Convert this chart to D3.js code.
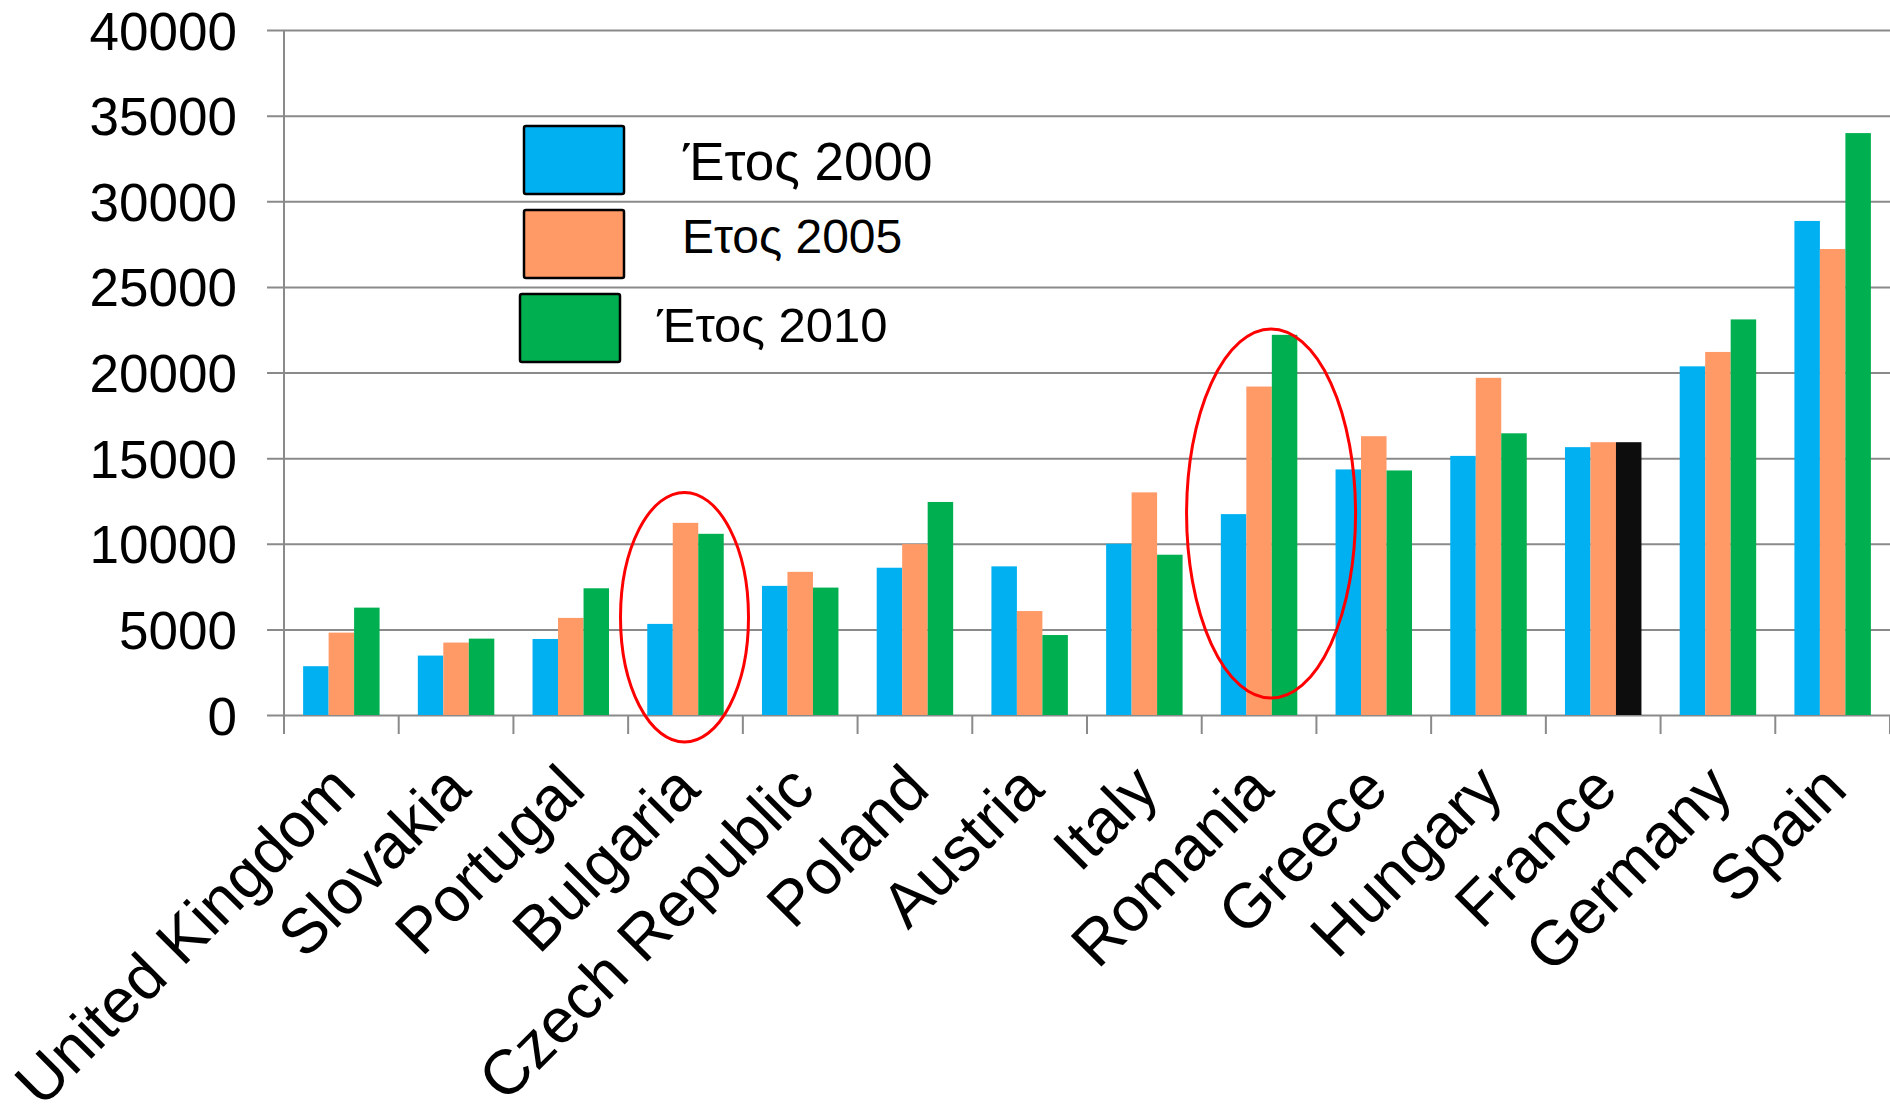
<!DOCTYPE html>
<html>
<head>
<meta charset="utf-8">
<script src="https://cdn.jsdelivr.net/npm/d3@7"></script>
<style>
  html, body { margin: 0; padding: 0; background: #fff; }
  svg { display: block; }
  text { font-family: "Liberation Sans", Arial, sans-serif; fill: #000; }
</style>
</head>
<body>
<svg id="chart" width="1890" height="1108"></svg>
<script>
// Countries along the x axis
const categories = ["United Kingdom", "Slovakia", "Portugal", "Bulgaria", "Czech Republic",
  "Poland", "Austria", "Italy", "Romania", "Greece", "Hungary", "France", "Germany", "Spain"];

// One array per year
const year2000 = [2850, 3470, 4440, 5320, 7540, 8600, 8680, 10000, 11730, 14340, 15130, 15640, 20360, 28850];
const year2005 = [4810, 4230, 5670, 11220, 8360, 9980, 6070, 13000, 19180, 16280, 19690, 15930, 21200, 27210];
const year2010 = [6270, 4460, 7400, 10580, 7440, 12440, 4670, 9360, 22200, 14280, 16450, 15930, 23100, 33980];

const seriesNames = ["Έτος 2000", "Ετος 2005", "Έτος 2010"];
const seriesValues = [year2000, year2005, year2010];

// Y axis ticks
const yTicks = [0, 5000, 10000, 15000, 20000, 25000, 30000, 35000, 40000];

// Countries circled in red
const highlighted = ["Bulgaria", "Romania"];

const colors = ["#00B0F0", "#FF9966", "#00B050"];
const specialColor = { "France|2": "#0D0D0D" };   // France 2010 bar
const gridColor = "#8a8a8a";

const svg = d3.select("#chart");

const plotLeft = 284, plotRight = 1890, plotTop = 30, plotBottom = 715;

const x = d3.scaleBand().domain(categories).range([plotLeft, plotRight]).paddingInner(0).paddingOuter(0);
const bw = x.bandwidth();
// three bars plus a 150% gap per category
const barW = bw / 4.5;
const x1 = d3.scaleBand().domain(d3.range(seriesNames.length))
  .range([bw * 0.75 / 4.5, bw * 0.75 / 4.5 + barW * 3]).padding(0);

const y = d3.scaleLinear().domain([0, 40000]).range([plotBottom, plotTop]);

// Horizontal gridlines with tick labels
const yAxis = d3.axisLeft(y)
  .tickValues(yTicks)
  .tickSizeInner(-(plotRight - 267))
  .tickSizeOuter(0)
  .tickPadding(30)
  .tickFormat(d3.format("d"));

const gy = svg.append("g").attr("transform", "translate(267,0)").call(yAxis);
gy.select(".domain").remove();
gy.selectAll(".tick line").attr("stroke", gridColor).attr("stroke-width", 2);
gy.selectAll(".tick text")
  .attr("font-size", 53)
  .attr("dy", "0.36em")
  .style("font-family", "'Liberation Sans', Arial, sans-serif")
  .attr("fill", "#000");

// Vertical axis line
svg.append("line")
  .attr("x1", plotLeft).attr("x2", plotLeft)
  .attr("y1", plotTop).attr("y2", plotBottom + 19)
  .attr("stroke", gridColor).attr("stroke-width", 2);

// Category tick marks at the band edges
const edges = categories.map(c => x(c)).concat([x.range()[1]]).slice(1);
svg.append("g").selectAll("line").data(edges).join("line")
  .attr("x1", d => d).attr("x2", d => d)
  .attr("y1", plotBottom).attr("y2", plotBottom + 19)
  .attr("stroke", gridColor).attr("stroke-width", 2);

// Bars
const barData = [];
categories.forEach((c, i) => {
  seriesValues.forEach((vals, s) => {
    barData.push({ cat: c, s: s, v: vals[i] });
  });
});

svg.append("g").selectAll("rect").data(barData).join("rect")
  .attr("x", d => x(d.cat) + x1(d.s))
  .attr("width", x1.bandwidth())
  .attr("y", d => y(d.v))
  .attr("height", d => y(0) - y(d.v))
  .attr("fill", d => specialColor[d.cat + "|" + d.s] || colors[d.s]);

// Rotated category labels
svg.append("g").selectAll("text").data(categories).join("text")
  .attr("transform", d => `translate(${x(d) + bw / 2 + 17},${plotBottom + 77}) rotate(-45)`)
  .attr("text-anchor", "end")
  .attr("font-size", 63)
  .text(d => d);

// Red ellipses around the highlighted countries
const ellipseSpec = {
  "Bulgaria": { dx: -1, top: 13000, bottom: -1580, rx: 64 },
  "Romania": { dx: 12, top: 22540, bottom: 990, rx: 84.5 }
};
svg.append("g").selectAll("ellipse").data(highlighted).join("ellipse")
  .attr("cx", d => x(d) + bw / 2 + ellipseSpec[d].dx)
  .attr("cy", d => (y(ellipseSpec[d].top) + y(ellipseSpec[d].bottom)) / 2)
  .attr("rx", d => ellipseSpec[d].rx)
  .attr("ry", d => (y(ellipseSpec[d].bottom) - y(ellipseSpec[d].top)) / 2)
  .attr("fill", "none")
  .attr("stroke", "#FF0000")
  .attr("stroke-width", 3);

// Legend
const legendItems = [
  { box: [524, 126], text: [683, 180], size: 53 },
  { box: [524, 210], text: [682, 253], size: 48 },
  { box: [520, 294], text: [657, 342], size: 49 }
];
const lg = svg.append("g");
legendItems.forEach((it, i) => {
  lg.append("rect")
    .attr("x", it.box[0]).attr("y", it.box[1])
    .attr("width", 100).attr("height", 68)
    .attr("rx", 2)
    .attr("fill", colors[i])
    .attr("stroke", "#000").attr("stroke-width", 2.5);
  lg.append("text")
    .attr("x", it.text[0]).attr("y", it.text[1])
    .attr("font-size", it.size)
    .text(seriesNames[i]);
});
</script>
</body>
</html>
